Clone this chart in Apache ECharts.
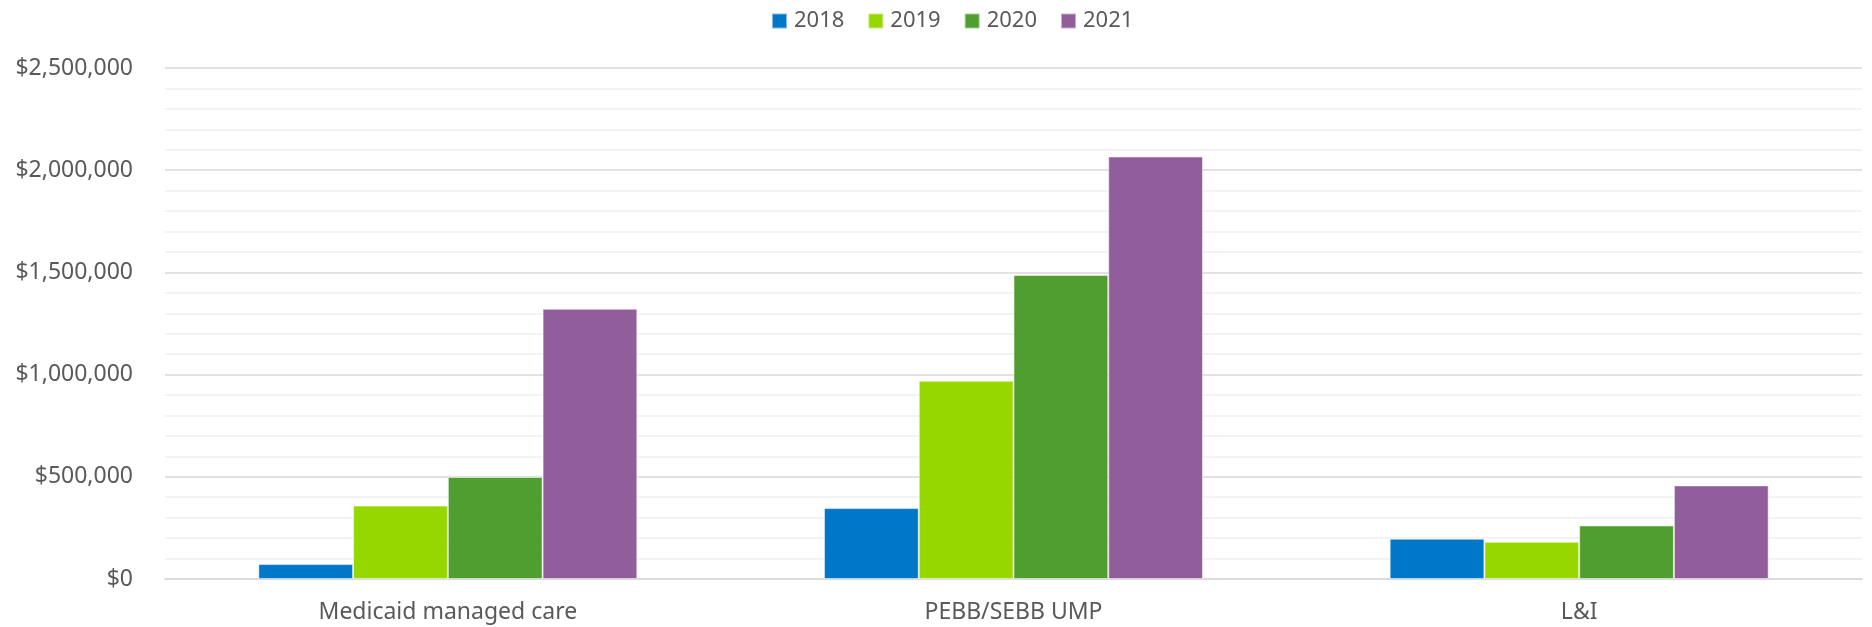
<!DOCTYPE html>
<html>
<head>
<meta charset="utf-8">
<script src="https://cdn.jsdelivr.net/npm/echarts@6/dist/echarts.min.js"></script>
<style>
  html, body { margin: 0; padding: 0; background: #fff; }
  #main { width: 1872px; height: 627px; }
</style>
</head>
<body>
<div id="main"></div>
<script>
var categories = ['Medicaid managed care', 'PEBB/SEBB UMP', 'L&I'];
var years = ['2018', '2019', '2020', '2021'];
var values2018 = [73000, 347000, 197000];
var values2019 = [359000, 970000, 182000];
var values2020 = [499000, 1487000, 262000];
var values2021 = [1322000, 2067000, 458000];
var colors = ['#0077c8', '#97d700', '#509e2f', '#915e9b'];

var chartDom = document.getElementById('main');
var myChart = echarts.init(chartDom);
var option;

var font = 'Noto Sans';
var seriesData = [values2018, values2019, values2020, values2021];

option = {
  animation: false,
  color: colors,
  textStyle: { fontFamily: font, color: '#595959' },
  legend: {
    top: 4,
    left: 766,
    itemWidth: 15,
    itemHeight: 15,
    itemGap: 23,
    icon: 'rect',
    textStyle: { fontSize: 22, lineHeight: 24, color: '#595959', padding: [0, 0, 0, 2] },
    data: years
  },
  grid: { left: 165, right: 10, top: 68, bottom: 48 },
  xAxis: {
    type: 'category',
    data: categories,
    axisTick: { show: false },
    axisLine: { lineStyle: { color: '#d9d9d9', width: 1.5 } },
    axisLabel: { fontSize: 23, color: '#595959', margin: 22 }
  },
  yAxis: {
    type: 'value',
    min: 0,
    max: 2500000,
    interval: 500000,
    axisLine: { show: false },
    axisTick: { show: false },
    axisLabel: {
      fontSize: 23,
      color: '#595959',
      margin: 32,
      formatter: function (v) { return '$' + v.toLocaleString('en-US'); }
    },
    splitLine: { lineStyle: { color: '#d9d9d9', width: 1.5 } },
    minorTick: { show: false, splitNumber: 5 },
    minorSplitLine: { show: true, lineStyle: { color: '#f0f0f0', width: 1.5 } }
  },
  series: years.map(function (y, i) {
    return {
      name: y,
      type: 'bar',
      data: seriesData[i],
      barGap: '0%',
      barCategoryGap: '33%',
      itemStyle: { borderColor: 'rgba(255,255,255,0.5)', borderWidth: 1 }
    };
  })
};

option && myChart.setOption(option);
</script>
</body>
</html>
